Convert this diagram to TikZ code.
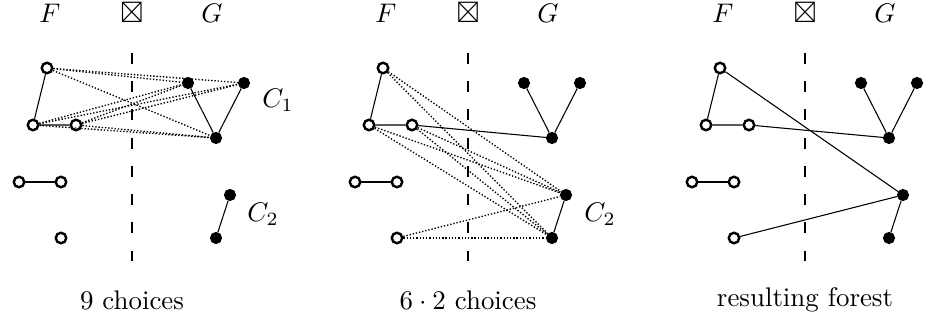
\documentclass[tikz,border=0pt]{standalone}
\usepackage{amssymb}
\usetikzlibrary{positioning}

\begin{document}
\begin{tikzpicture}[
  x=0.3717pt, y=-0.3717pt,
  fv/.style={draw, circle, line width=0.9pt, fill=white,
             inner sep=0pt, minimum size=3.9pt},
  gv/.style={draw, circle, fill=black, inner sep=0pt, minimum size=4.1pt},
  tree/.style={thin},
  cand/.style={dash pattern=on 0.5pt off 0.7pt, line width=0.5pt},
  cut/.style={line width=0.8pt, dash pattern=on 4pt off 6.5pt},
]
\useasboundingbox (0,0) rectangle (928,322);

% the three panels share the vertices, the cut and the header
\foreach \p/\xd/\cap in {1/132/9 choices, 2/468/$6\cdot 2$ choices, 3/805/resulting forest} {
  \begin{scope}[shift={(\xd,0)}]
    \node (F\p) at (-82,13) {$F$};
    \node[inner sep=0pt] (X\p) at (0,13) {\scalebox{1.1}{$\boxtimes$}};
    \node (G\p) at (80,13) {$G$};
    \coordinate (top\p) at (0,53);
    \coordinate (bot\p) at (0,267);
    \draw[cut] (top\p) -- (bot\p);
    \node (cap\p) at (0,300) {\cap};

    \node[fv] (a\p) at (-85,68) {};
    \node[fv] (b\p) at (-99,125) {};
    \node[fv] (c\p) at (-56,125) {};
    \node[fv] (d\p) at (-113,182) {};
    \node[fv] (e\p) at (-71,182) {};
    \node[fv] (f\p) at (-71,238) {};

    \node[gv] (ga\p) at (56,83) {};
    \node[gv] (gb\p) at (112,83) {};
    \node[gv] (gc\p) at (84,138) {};
    \node[gv] (gd\p) at (98,195) {};
    \node[gv] (ge\p) at (84,238) {};

    \draw[tree] (a\p) -- (b\p) -- (c\p);
    \draw[tree] (d\p) -- (e\p);
    \draw[tree] (ga\p) -- (gc\p) -- (gb\p);
    \draw[tree] (gd\p) -- (ge\p);
  \end{scope}
}

% panel 1: candidate edges into C_1
\foreach \u in {a,b,c}
  \foreach \v in {ga,gb,gc}
    \draw[cand] (\u1) -- (\v1);
\node (C1a) at (278,100) {$C_1$};
\node (C2a) at (263,214) {$C_2$};

% panel 2: C_1 merged, candidate edges into C_2
\draw[tree] (c2) -- (gc2);
\foreach \u in {a,b,c,f}
  \foreach \v in {gd,ge}
    \draw[cand] (\u2) -- (\v2);
\node (C2b) at (600,214) {$C_2$};

% panel 3: the resulting forest
\draw[tree] (c3) -- (gc3);
\draw[tree] (a3) -- (gd3);
\draw[tree] (f3) -- (gd3);

\end{tikzpicture}
\end{document}
